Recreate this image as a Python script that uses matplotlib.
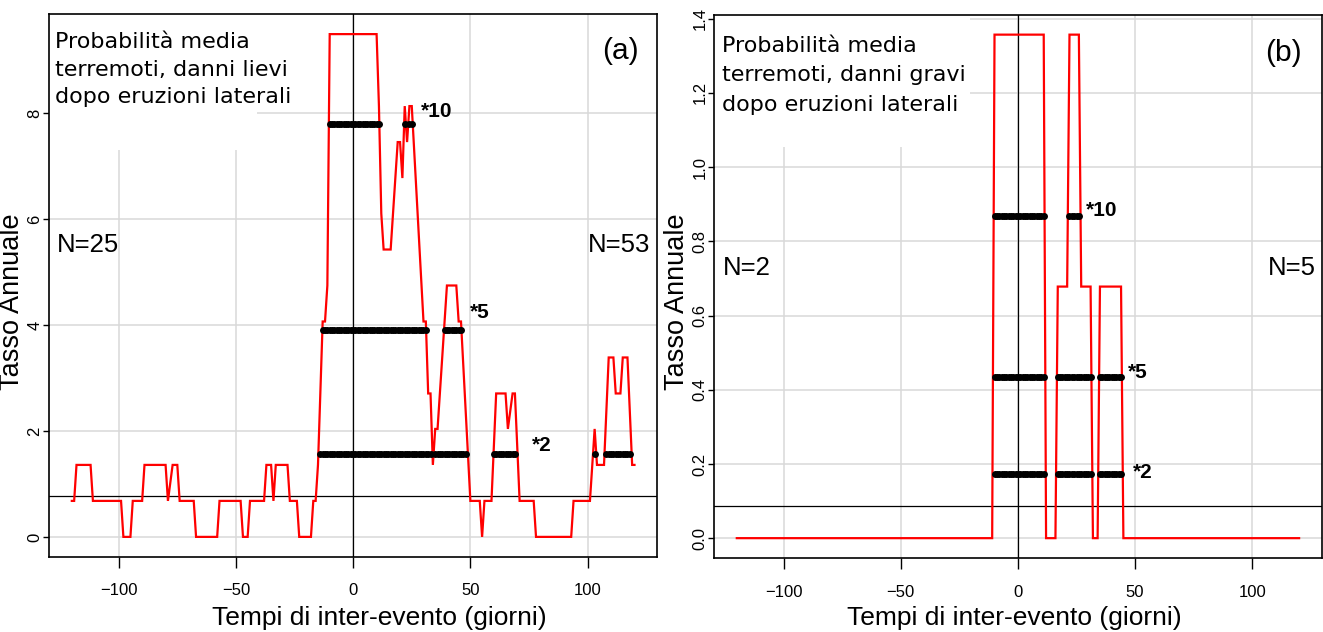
import numpy as np
import matplotlib
matplotlib.use("Agg")
import matplotlib.pyplot as plt
from matplotlib.patches import Rectangle

plt.rcParams['font.family'] = ['Liberation Sans', 'DejaVu Sans']

# ---------------- data ----------------
# panel (a): average rate, light damage earthquakes after lateral eruptions
days_a = [-120, -119, -118, -112, -111, -99, -98, -95, -94, -90, -89, -80, -79, -77, -75, -74,
          -68, -67, -58, -57, -48, -47, -45, -44, -38, -37, -35, -34, -33, -28, -27, -24, -23,
          -18, -17, -16, -15, -14, -13, -12, -11, -10, 10, 11, 12, 13, 16, 19, 20, 21, 22, 23,
          24, 25, 30, 31, 32, 33, 34, 35, 36, 40, 44, 45, 46, 50, 54, 55, 56, 59, 61, 65, 66,
          68, 69, 71, 77, 78, 93, 94, 101, 103, 104, 107, 109, 111, 112, 114, 115, 117, 119, 120]
rate_a = [0.68, 0.68, 1.36, 1.36, 0.68, 0.68, 0.0, 0.0, 0.68, 0.68, 1.36, 1.36, 0.68, 1.36, 1.36, 0.68,
          0.68, 0.0, 0.0, 0.68, 0.68, 0.0, 0.0, 0.68, 0.68, 1.36, 1.36, 0.68, 1.36, 1.36, 0.68, 0.68, 0.0,
          0.0, 0.68, 0.68, 1.36, 2.71, 4.07, 4.07, 4.75, 9.50, 9.50, 8.14, 6.11, 5.43, 5.43, 7.46, 7.46, 6.78, 8.14, 7.46,
          8.14, 8.14, 4.07, 4.07, 2.71, 2.71, 1.36, 2.04, 2.04, 4.75, 4.75, 4.07, 4.07, 0.68, 0.68, 0.0, 0.68, 0.68, 2.71, 2.71, 2.04,
          2.71, 2.71, 0.68, 0.68, 0.0, 0.0, 0.68, 0.68, 2.04, 1.36, 1.36, 3.39, 3.39, 2.71, 2.71, 3.39, 3.39, 1.36, 1.36]
mean_a = 0.78
n_before_a, n_after_a = 25, 53

# panel (b): average rate, heavy damage earthquakes after lateral eruptions
days_b = [-120, -11, -10, 11, 12, 16, 17, 21, 22, 26, 27, 31, 32, 34, 35, 44, 45, 120]
rate_b = [0.0, 0.0, 1.357, 1.357, 0.0, 0.0, 0.678, 0.678, 1.357, 1.357, 0.678, 0.678, 0.0, 0.0, 0.678, 0.678, 0.0, 0.0]
mean_b = 0.0868
n_before_b, n_after_b = 2, 5

multipliers = [10, 5, 2]
# day ranges where the rate exceeds multiplier * mean
exceed_a = {10: [(-10, 11), (22, 22), (24, 25)],
            5: [(-13, 31), (39, 46)],
            2: [(-14, 33), (35, 48), (60, 69), (103, 103), (108, 118)]}
exceed_b = {10: [(-10, 11), (22, 26)],
            5: [(-10, 11), (17, 31), (35, 44)],
            2: [(-10, 11), (17, 31), (35, 44)]}

title_a = ["Probabilità media", "terremoti, danni lievi", "dopo eruzioni laterali"]
title_b = ["Probabilità media", "terremoti, danni gravi", "dopo eruzioni laterali"]
xticks = [-100, -50, 0, 50, 100]
yticks_a = [0, 2, 4, 6, 8]
yticks_b = [0.0, 0.2, 0.4, 0.6, 0.8, 1.0, 1.2, 1.4]
xlabel = "Tempi di inter-evento (giorni)"
ylabel = "Tasso Annuale"

# ---------------- drawing ----------------
W, H = 1323, 632
fig = plt.figure(figsize=(W / 100, H / 100), dpi=100)
axA = fig.add_axes([49.3 / W, (H - 557) / H, 607.7 / W, 543 / H])
axB = fig.add_axes([714.3 / W, (H - 558.3) / H, 607.3 / W, 543.8 / H])

RED = '#ff0000'


def draw(ax, days, rate, mean, exceed, ymax, yticks, ylabfmt, box_w, box_y0,
         title, tb_x, tb_y, nb, na, n_y, tag, tag_y, star_pos):
    ax.set_xlim(-129.6, 129.6)
    ext = 0.04 * ymax
    ax.set_ylim(-ext, ymax + ext)
    ax.set_xticks(xticks)
    ax.set_xticklabels([("\u2212%d" % -t) if t < 0 else "%d" % t for t in xticks])
    ax.set_yticks(yticks)
    ax.set_yticklabels([ylabfmt % t for t in yticks])
    ax.grid(True, color='#d9d9d9', lw=1.1)
    ax.set_axisbelow(True)
    for s in ax.spines.values():
        s.set_linewidth(1.2)
    ax.tick_params(axis='both', direction='out', width=1.0,
                   labelsize=12, colors='black')
    ax.tick_params(axis='x', length=8, pad=11)
    ax.tick_params(axis='y', length=4, pad=1, labelrotation=90)
    for lb in ax.get_yticklabels():
        lb.set_va('center')
    # white box behind the description
    ax.add_patch(Rectangle((0, box_y0), box_w, 1 - box_y0, transform=ax.transAxes,
                           facecolor='white', edgecolor='none', zorder=1))
    ax.axvline(0, color='black', lw=0.9, zorder=2)
    ax.axhline(mean, color='black', lw=0.9, zorder=2)
    ax.plot(days, rate, color=RED, lw=1.6, zorder=3, solid_joinstyle='miter')
    for k in multipliers:
        for (s, e) in exceed[k]:
            d = np.arange(s, e + 1)
            ax.plot(d, np.full(len(d), mean * k), 'o', color='black', ms=5.0,
                    mew=0, zorder=4)
        ax.text(star_pos[k][0], star_pos[k][1], "*%d" % k, fontsize=15,
                fontweight='bold', ha='left', va='baseline', zorder=5)
    for line, yy in zip(title, tb_y):
        ax.text(tb_x, yy, line, transform=ax.transAxes, family='DejaVu Sans',
                fontsize=16, ha='left', va='baseline', zorder=5)
    ax.text(n_y[0], n_y[2], "N=%d" % nb, transform=ax.transAxes, fontsize=18.5,
            ha='left', va='baseline')
    ax.text(n_y[1], n_y[2], "N=%d" % na, transform=ax.transAxes, fontsize=18.5,
            ha='right', va='baseline')
    ax.text(tag_y[0], tag_y[1], tag, transform=ax.transAxes, fontsize=21.5,
            ha='right', va='baseline')


draw(axA, days_a, rate_a, mean_a, exceed_a, 9.5, yticks_a, "%d", 0.342, 0.7495,
     title_a, 0.0094, [0.9368, 0.8867, 0.8355], n_before_a, n_after_a,
     (0.0122, 0.9885, 0.5617), "(a)", (0.9692, 0.9178),
     {10: (29.1, 7.94), 5: (50.0, 4.14), 2: (76.4, 1.62)})
draw(axB, days_b, rate_b, mean_b, exceed_b, 1.357, yticks_b, "%.1f", 0.421, 0.756,
     title_b, 0.0132, [0.9316, 0.8778, 0.8226], n_before_b, n_after_b,
     (0.0148, 0.9908, 0.521), "(b)", (0.9672, 0.915),
     {10: (28.9, 0.867), 5: (47.0, 0.4326), 2: (48.9, 0.1634)})

# axis titles
fig.text(379.2 / W, (H - 624.5) / H, xlabel, fontsize=19, ha='center', va='baseline')
fig.text(1014.7 / W, (H - 625) / H, xlabel, fontsize=19, ha='center', va='baseline')
fig.text(25.5 / W, (H - 302) / H, ylabel, fontsize=19.5, rotation=90, ha='right', va='center')
fig.text(690 / W, (H - 302) / H, ylabel, fontsize=19.5, rotation=90, ha='right', va='center')

fig.savefig("out.png", dpi=100)
